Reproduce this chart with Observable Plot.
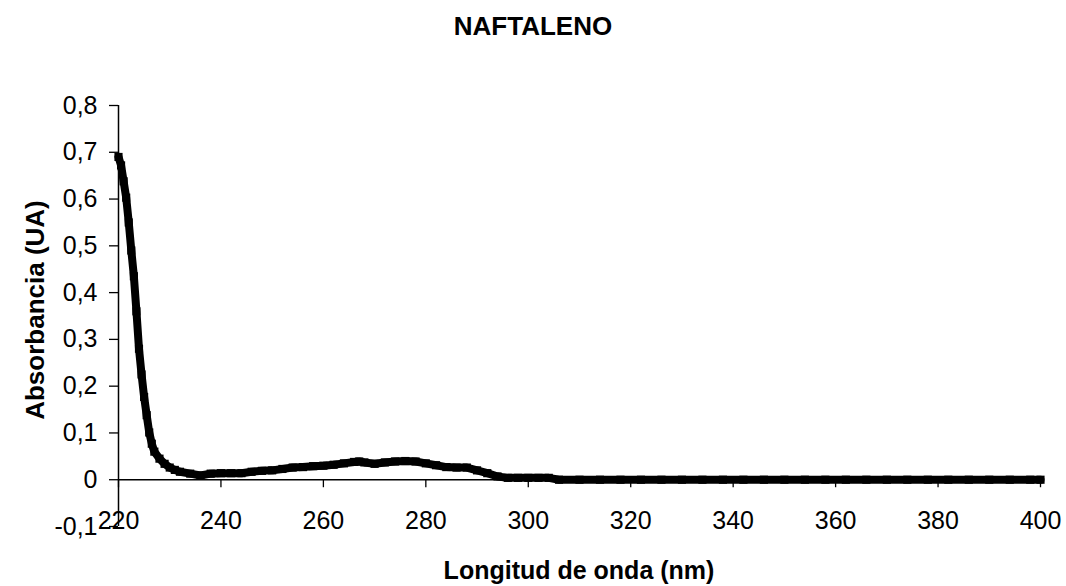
<!DOCTYPE html>
<html>
<head>
<meta charset="utf-8">
<script src="https://cdn.jsdelivr.net/npm/d3@7"></script>
<script src="https://cdn.jsdelivr.net/npm/@observablehq/plot@0.6"></script>
<style>
  html, body { margin: 0; padding: 0; background: #fff; }
  #wrap { position: relative; width: 1066px; height: 586px; overflow: hidden; font-family: "Liberation Sans", Arial, sans-serif; color: #000; }
  .t { position: absolute; font-weight: bold; white-space: nowrap; text-align: center; }
  #title { left: 0; top: 13px; width: 1066px; font-size: 26px; line-height: 26px; }
  #xlab { left: 118px; top: 557px; width: 922px; font-size: 25px; line-height: 26px; }
  #ylab { left: -175px; top: 297px; width: 420px; font-size: 26px; line-height: 26px; transform: rotate(-90deg); }
  #chart { position: absolute; left: 0; top: 0; }
</style>
</head>
<body>
<div id="wrap">
  <div id="chart"></div>
  <div class="t" id="title">NAFTALENO</div>
  <div class="t" id="xlab">Longitud de onda (nm)</div>
  <div class="t" id="ylab">Absorbancia (UA)</div>
</div>
<script>
// Data (wavelength in nm, absorbance in UA)
const wavelength = [
  220, 220.5, 221, 221.5, 222, 222.5, 223, 223.5, 224, 224.5, 225, 225.5, 226, 226.5, 227,
  228, 229, 230, 231, 232, 234, 236, 238, 240, 242, 244, 246, 248, 250, 252, 254, 256, 258,
  260, 262, 264, 266, 267, 268, 270, 272, 274, 276, 278, 280, 282, 284, 286, 288, 290, 292,
  294, 296, 298, 300, 302, 304, 306, 310, 314, 318, 322, 326, 330, 334, 338, 342, 346, 350,
  354, 358, 362, 366, 370, 374, 378, 382, 386, 390, 394, 398, 400
];
const absorbance = [
  0.69, 0.672, 0.638, 0.603, 0.55, 0.49, 0.435, 0.36, 0.28, 0.225, 0.177, 0.138, 0.101, 0.077, 0.06,
  0.045, 0.034, 0.026, 0.021, 0.017, 0.013, 0.009, 0.013, 0.014, 0.014, 0.014, 0.017, 0.019, 0.02, 0.023, 0.026, 0.027, 0.029,
  0.03, 0.032, 0.035, 0.038, 0.039, 0.037, 0.034, 0.037, 0.039, 0.04, 0.039, 0.035, 0.031, 0.027, 0.026, 0.026, 0.02, 0.014,
  0.007, 0.004, 0.004, 0.004, 0.004, 0.004, 0, 0, 0, 0, 0, 0, 0, 0, 0, 0, 0, 0,
  0, 0, 0, 0, 0, 0, 0, 0, 0, 0, 0, 0, 0
];
const xTicks = [220, 240, 260, 280, 300, 320, 340, 360, 380, 400];
const yTicks = [-0.1, 0, 0.1, 0.2, 0.3, 0.4, 0.5, 0.6, 0.7, 0.8];

const data = wavelength.map((w, i) => ({w, a: absorbance[i]}));
const fmtY = d => String(Math.round(d * 10) / 10).replace(".", ",");

const chart = Plot.plot({
  width: 1066,
  height: 586,
  marginLeft: 118,
  marginRight: 26,
  marginTop: 105,
  marginBottom: 60,
  style: {fontFamily: "'Liberation Sans', Arial, sans-serif", fontSize: "25px", color: "#000", background: "transparent"},
  x: {domain: [220, 400], axis: null},
  y: {domain: [-0.1, 0.8], axis: null},
  marks: [
    Plot.axisY(yTicks, {tickFormat: fmtY, tickSize: 9, tickPadding: 12, fontSize: 25, label: null, stroke: "#000", fill: "#000", strokeWidth: 1.3}),
    Plot.ruleX([220], {stroke: "#000", strokeWidth: 1.5}),
    Plot.ruleY([0], {stroke: "#000", strokeWidth: 1.5}),
    Plot.ruleX(xTicks, {x: d => d, y1: 0, y2: 0, insetBottom: -8, stroke: "#000", strokeWidth: 1.3}),
    Plot.text(xTicks, {x: d => d, y: 0, dy: 41, text: d => String(d), fontSize: 25, fill: "#000"}),
    Plot.line(data, {x: "w", y: "a", stroke: "#000", strokeWidth: 8}),
    Plot.dot(data, {x: "w", y: "a", symbol: "square", r: 4.6, fill: "#000", stroke: "none"})
  ]
});
document.getElementById("chart").appendChild(chart);
</script>
</body>
</html>
